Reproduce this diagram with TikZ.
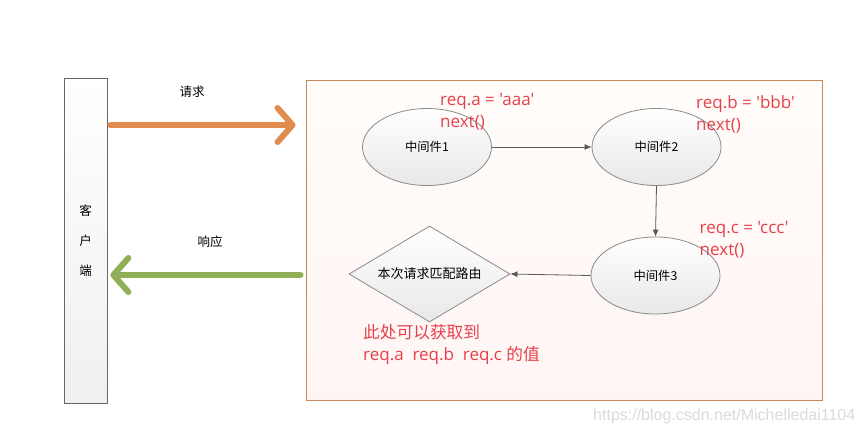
\documentclass[tikz,border=0pt]{standalone}
\usepackage{fontspec}
\setmainfont{Open Sans}[Ligatures=TeXOff]
\newfontfamily\latinfont{Open Sans}[Ligatures=TeXOff]
\newfontfamily\cjk{Noto Sans CJK SC}
\newfontfamily\wmfont{Liberation Sans}
\usetikzlibrary{arrows.meta,shapes.geometric}
\definecolor{redtxt}{HTML}{E8404A}
\definecolor{orangeA}{HTML}{E08C4E}
\definecolor{greenA}{HTML}{90AF58}
\definecolor{srvborder}{HTML}{C8875A}
\definecolor{shapeline}{HTML}{8A8A8A}
\tikzset{
  boxbase/.style={draw=gray!80!black, line width=0.8pt, inner sep=0pt},
  clientbox/.style={boxbase, rectangle, top color=white, bottom color=gray!12, minimum width=43pt, minimum height=325pt, font=\cjk\fontsize{12.5}{30}\selectfont, align=center},
  serverbox/.style={rectangle, draw=srvborder, line width=0.9pt, top color=orange!2, bottom color=orange!9!red!4, minimum width=516pt, minimum height=320pt},
  mwnode/.style={ellipse, draw=shapeline, line width=0.8pt, top color=white, bottom color=gray!18, minimum width=129pt, minimum height=77pt, inner sep=0pt, font=\cjk\fontsize{12.3}{14}\selectfont},
  routenode/.style={diamond, draw=shapeline, line width=0.8pt, top color=white, bottom color=gray!18, minimum width=161pt, minimum height=96pt, aspect=1.68, inner sep=0pt, font=\cjk\fontsize{13}{14}\selectfont},
  thinarrow/.style={draw=gray!70!black, line width=0.8pt, -{Latex[length=7pt,width=6pt]}},
  orangearrow/.style={draw=orangeA, line width=6pt, line cap=round, -{Straight Barb[length=15pt,width=34pt,round]}},
  greenarrow/.style={draw=greenA, line width=6pt, line cap=round, -{Straight Barb[length=15pt,width=34pt,round]}},
  blacklabel/.style={font=\cjk\fontsize{12.5}{14}\selectfont, inner sep=0pt},
  redlabel/.style={text=redtxt, font=\latinfont\fontsize{17}{20}\selectfont, anchor=base west, inner sep=0pt},
  redcjk/.style={text=redtxt, font=\cjk\fontsize{16.7}{20}\selectfont, anchor=base west, inner sep=0pt},
  watermark/.style={text=gray!28, font=\wmfont\fontsize{16}{18}\selectfont, anchor=base west, inner sep=0pt}
}
\begin{document}
\begin{tikzpicture}[x=1pt,y=-1pt]
\useasboundingbox[fill=white] (0,0) rectangle (864,432);

% server area
\node[serverbox] (server) at (564,240) {};

% client
\node[clientbox] (client) at (85.5,240.5) {客\\户\\端};

% big arrows
\coordinate (reqy) at (0,125);
\coordinate (respy) at (0,275);
\draw[orangearrow] ([xshift=3pt]client.east |- reqy) -- ([xshift=-10pt]server.west |- reqy);
\draw[greenarrow] ([xshift=-5pt]server.west |- respy) -- ([xshift=3pt]client.east |- respy);
\node[blacklabel] (lreq) at (192,92) {请求};
\node[blacklabel] (lresp) at (210,242) {响应};

% middleware nodes
\node[mwnode] (m1) at (427,147) {中间件1};
\node[mwnode] (m2) at (656.5,147) {中间件2};
\node[mwnode] (m3) at (655.5,275.5) {中间件3};
\node[routenode] (route) at (429.5,274) {本次请求匹配路由};

\draw[thinarrow] (m1.east) -- (m2.west);
\draw[thinarrow] (m2.south) -- (m3.north);
\draw[thinarrow] (m3.west) -- (route.east);

% red annotations
\node[redlabel] (a1) at (440,105) {req.a = 'aaa'};
\node[redlabel] (a2) at (440,127) {next()};
\node[redlabel] (b1) at (696,108) {req.b = 'bbb'};
\node[redlabel] (b2) at (696,130) {next()};
\node[redlabel] (c1) at (699.5,233) {req.c = 'ccc'};
\node[redlabel] (c2) at (699.5,255) {next()};
\node[redcjk] (d1) at (363,338) {此处可以获取到};
\node[redlabel] (d2) at (363,360) {req.a\ \ req.b\ \ req.c {\cjk\fontsize{16.7}{20}\selectfont 的值}};

% watermark
\node[watermark] (wm) at (593,420) {https://blog.csdn.net/Michelledai1104};
\end{tikzpicture}
\end{document}
